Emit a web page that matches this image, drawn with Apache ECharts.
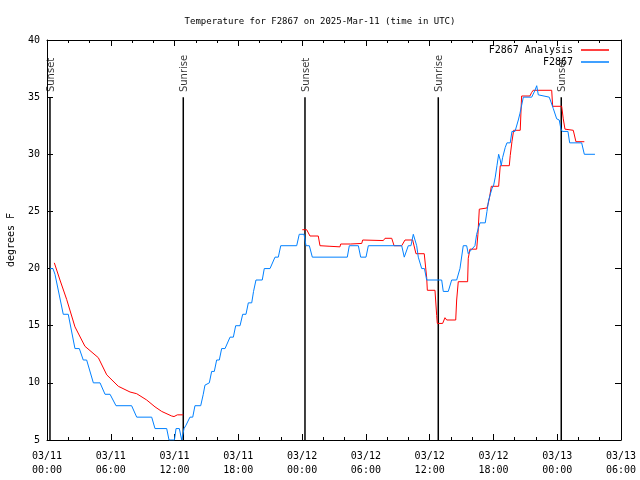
<!DOCTYPE html>
<html><head><meta charset="utf-8">
<script src="https://cdn.jsdelivr.net/npm/echarts@6/dist/echarts.min.js"></script>
<style>html,body{margin:0;padding:0;background:#fff}#c{width:640px;height:480px}</style>
</head><body><div id="c"></div>
<script>
const titleText = 'Temperature for F2867 on 2025-Mar-11 (time in UTC)';
const yAxisName = 'degrees F';
const xTickLabels = ['03/11\n00:00','03/11\n06:00','03/11\n12:00','03/11\n18:00','03/12\n00:00','03/12\n06:00','03/12\n12:00','03/12\n18:00','03/13\n00:00','03/13\n06:00'];
const seriesNames = ['F2867 Analysis', 'F2867'];

// hours since 03/11 00:00 UTC
const obsHours = [0.28,0.56,0.75,1.53,2.00,2.63,3.04,3.41,3.73,4.36,4.99,5.46,5.93,6.49,7.96,8.44,9.85,10.16,11.26,11.48,11.99,12.14,12.45,12.67,12.76,12.89,13.08,13.45,13.71,13.92,14.46,14.70,14.86,15.27,15.49,15.74,15.96,16.21,16.43,16.75,17.22,17.53,17.75,18.16,18.41,18.72,18.94,19.26,19.43,19.66,20.25,20.44,20.98,21.45,21.76,21.99,23.49,23.73,24.18,24.37,24.68,24.96,28.25,28.44,29.29,29.51,30.01,30.23,33.37,33.61,33.77,33.99,34.24,34.46,34.55,34.78,34.93,35.02,35.25,35.51,35.72,37.13,37.28,37.75,38.07,38.54,38.85,39.16,39.48,39.63,39.79,40.26,40.42,40.73,41.23,41.39,41.55,41.70,41.86,42.02,42.17,42.33,42.49,42.64,42.73,42.86,43.11,43.27,43.58,43.74,44.03,44.34,44.50,44.81,45.60,45.91,46.07,46.22,47.25,47.48,47.63,47.95,48.19,48.35,48.48,49.01,49.17,50.30,50.55,51.55];
const obsTemps = [20,20,19.5,16,16,13,13,12,12,10,10,9,9,8,8,7,7,6,6,5,5,6,6,5,5,6,6.3,7,7,8,8,9,9.8,10,11,11,12,12,13,13,14,14,15,15,16,16,17,17,18,19,19,20,20,21,21,22,22,23,23,22,22,21,21,22,22,21,21,22,22,21,21,22,22,23,23,22,21,21,20,20,19,19,18,18,19,19,20,22,22,21.3,21.5,22,23,24,24,25,26,26,27,27.3,28,29,30,29.5,29,29.7,30.6,31,31,32,32,33,33.6,35,35,35.6,36,35.2,35,34.4,34,33.1,33,32.2,32,32,31,31,30,30];

const anaHours = [0.69,1.22,1.85,2.63,3.57,4.83,5.62,6.71,7.81,8.44,9.38,10.16,10.79,11.73,11.95,12.26,12.82,null,24.02,24.43,24.74,25.52,25.68,26.62,27.56,27.63,28.57,28.66,29.61,29.70,31.64,31.80,32.43,32.65,33.37,33.68,34.40,34.71,35.49,35.72,35.78,36.50,36.66,36.72,37.22,37.44,37.60,38.45,38.54,38.69,39.57,39.63,39.79,40.42,40.54,40.67,41.39,41.48,41.61,41.80,42.49,42.64,43.49,43.58,43.74,43.90,44.52,44.65,45.43,45.59,45.74,47.48,47.57,48.42,48.57,48.73,49.51,49.76,50.55];
const anaTemps = [20.5,19.0,17.3,14.9,13.2,12.2,10.7,9.7,9.2,9.05,8.5,7.9,7.5,7.1,7.05,7.2,7.2,null,23.4,23.4,22.85,22.85,22.0,21.95,21.9,22.15,22.15,22.2,22.2,22.5,22.45,22.65,22.65,22.0,22.0,22.5,22.5,21.3,21.3,19.2,18.1,18.1,15.9,15.2,15.2,15.7,15.5,15.5,17.25,18.85,18.85,20.9,21.7,21.7,23,25.2,25.3,25.6,26.1,27.2,27.2,29.0,29.0,29.9,31.1,32.1,32.1,35.1,35.1,35.4,35.6,35.6,34.2,34.2,33.1,32.2,32.1,31.1,31.1];

const sunHours = [0.28, 12.82, 24.27, 36.81, 48.38];
const sunLabels = ['Sunset','Sunrise','Sunset','Sunrise','Sunset'];
const sunLineBottom = 5, sunLineTop = 35;

const mono = 'DejaVu Sans Mono';
const obsData = obsHours.map((h,i) => [h, obsTemps[i]]);
const anaData = anaHours.map((h,i) => h === null ? '-' : [h, anaTemps[i]]);

const sunSeries = sunHours.map((h,i) => ({
  type: 'line', name: 'sun' + i, data: [[h, sunLineBottom],[h, sunLineTop]],
  symbol: 'none', lineStyle: {color: '#000', width: 1.5}, silent: true, z: 1, animation: false
}));

const chart = echarts.init(document.getElementById('c'), null, {renderer: 'canvas'});
const xCommon = {type: 'value', min: 0, max: 54, interval: 6,
  axisLine: {show: true, onZero: false, lineStyle: {color: '#000', width: 1}},
  axisTick: {show: true, inside: true, length: 6, lineStyle: {color: '#000'}},
  minorTick: {show: true, splitNumber: 3, length: 3, lineStyle: {color: '#000'}},
  splitLine: {show: false}};
const yCommon = {type: 'value', min: 5, max: 40, interval: 5,
  axisLine: {show: true, onZero: false, lineStyle: {color: '#000', width: 1}},
  axisTick: {show: true, inside: true, length: 6, lineStyle: {color: '#000'}},
  splitLine: {show: false}};
chart.setOption({
  animation: false,
  backgroundColor: '#fff',
  title: {text: titleText, left: 'center', top: 12,
    textStyle: {fontFamily: mono, fontSize: 9, fontWeight: 'normal', color: '#000'}},
  legend: {data: seriesNames, orient: 'vertical', right: 26, top: 39, align: 'right',
    icon: 'rect', itemWidth: 28, itemHeight: 1.5, itemGap: 0,
    textStyle: {fontFamily: mono, fontSize: 10, color: '#000', lineHeight: 12, padding: [0, 3, 0, 0]}},
  grid: {left: 47, right: 19, top: 40, bottom: 40, containLabel: false, outerBoundsMode: 'none'},
  xAxis: [
    Object.assign({}, xCommon, {position: 'bottom',
      axisLabel: {fontFamily: mono, fontSize: 10, color: '#000', margin: 9, lineHeight: 14,
        formatter: v => xTickLabels[Math.round(v / 6)] || ''}}),
    Object.assign({}, xCommon, {position: 'top', axisLabel: {show: false}})
  ],
  yAxis: [
    Object.assign({}, yCommon, {position: 'left', name: yAxisName, nameLocation: 'middle', nameGap: 31,
      nameTextStyle: {fontFamily: mono, fontSize: 10, color: '#000'},
      axisLabel: {fontFamily: mono, fontSize: 10, color: '#000', margin: 7}}),
    Object.assign({}, yCommon, {position: 'right', axisLabel: {show: false}})
  ],
  series: sunSeries.concat([
    {type: 'scatter', name: 'sunLabels', data: sunHours.map(h => [h, sunLineTop]),
      symbolSize: 0.1, silent: true, z: 3,
      label: {show: true, formatter: p => sunLabels[p.dataIndex], position: [1, -5],
        rotate: 90, align: 'left', verticalAlign: 'middle',
        fontFamily: 'DejaVu Sans', fontSize: 10, color: '#000'}},
    {type: 'line', name: seriesNames[0], data: anaData, symbol: 'none', showSymbol: false,
      connectNulls: false, lineStyle: {color: '#ff0000', width: 1}, itemStyle: {color: '#ff0000'}, z: 4},
    {type: 'line', name: seriesNames[1], data: obsData, symbol: 'none', showSymbol: false,
      lineStyle: {color: '#0080ff', width: 1}, itemStyle: {color: '#0080ff'}, z: 5}
  ])
});
</script></body></html>
